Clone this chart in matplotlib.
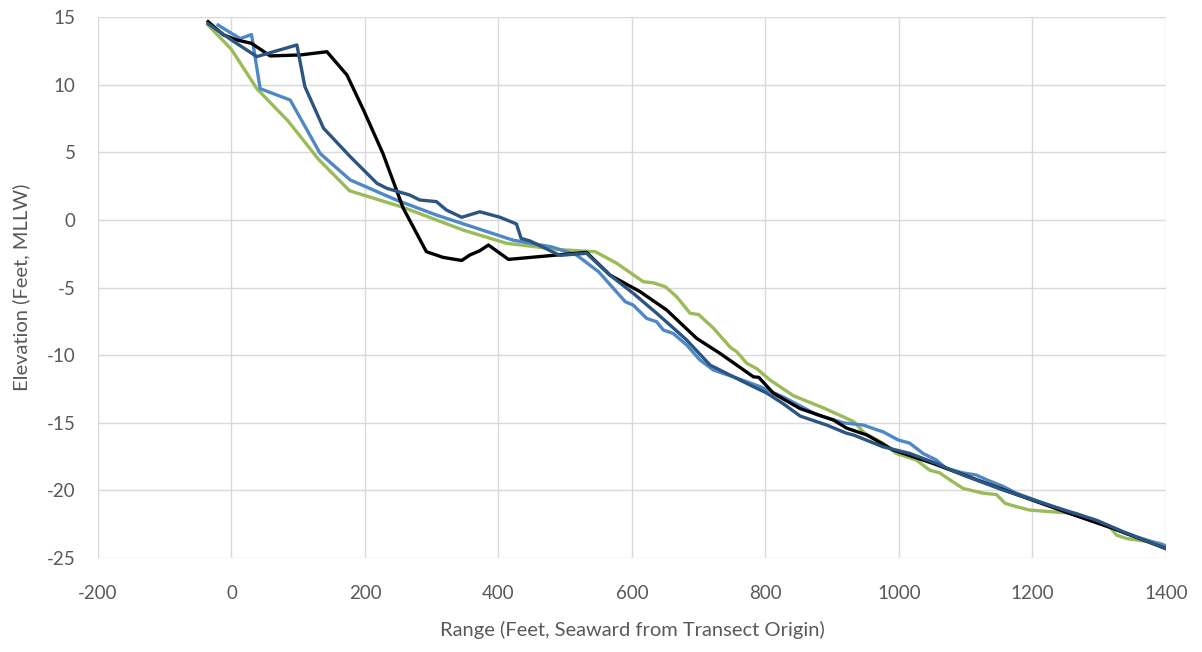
import matplotlib
matplotlib.use("Agg")
import matplotlib.pyplot as plt
import numpy as np

# survey profiles (range ft, elevation ft MLLW)
green_x = [-35, 0, 38, 85, 130, 177, 257, 347, 412, 492, 545, 577, 617, 632, 650, 667,
           687, 700, 722, 747, 757, 772, 787, 807, 842, 887, 932, 949, 976, 996, 1026,
           1046, 1061, 1076, 1096, 1126, 1146, 1159, 1176, 1196, 1236, 1266, 1291, 1316,
           1326, 1341, 1376, 1391, 1400]
green_y = [14.4, 12.6, 9.7, 7.3, 4.5, 2.15, 0.93, -0.75, -1.73, -2.2, -2.35, -3.2, -4.57,
           -4.65, -4.94, -5.68, -6.9, -7.0, -8.0, -9.4, -9.75, -10.6, -11.0, -11.84,
           -13.0, -13.9, -14.9, -15.78, -16.5, -17.26, -17.75, -18.5, -18.7, -19.2,
           -19.85, -20.2, -20.3, -20.95, -21.2, -21.45, -21.6, -21.7, -22.2, -22.7,
           -23.3, -23.55, -23.8, -23.9, -24.1]

lblue_x = [-20, 13, 30, 43, 88, 133, 178, 247, 307, 357, 422, 480, 517, 550, 590, 602,
           622, 637, 647, 662, 682, 702, 722, 752, 792, 827, 877, 917, 947, 966, 976,
           999, 1016, 1036, 1056, 1071, 1096, 1116, 1131, 1156, 1176, 1226, 1256, 1296,
           1341, 1400]
lblue_y = [14.4, 13.4, 13.7, 9.7, 8.86, 4.9, 2.95, 1.47, 0.36, -0.45, -1.5, -2.0, -2.6,
           -3.83, -6.05, -6.3, -7.28, -7.53, -8.14, -8.4, -9.25, -10.36, -11.1, -11.6,
           -12.33, -13.1, -14.4, -15.0, -15.17, -15.5, -15.66, -16.27, -16.5, -17.26,
           -17.75, -18.37, -18.7, -18.86, -19.2, -19.7, -20.2, -21.1, -21.7, -22.3,
           -23.2, -24.1]

navy_x = [-35, 3, 38, 98, 110, 138, 178, 218, 233, 267, 282, 307, 322, 345, 372, 402,
          427, 434, 447, 492, 532, 567, 602, 637, 657, 682, 717, 752, 782, 802, 827,
          852, 892, 922, 932, 976, 1016, 1056, 1096, 1156, 1226, 1296, 1336, 1400]
navy_y = [14.5, 13.2, 12.07, 12.93, 9.85, 6.77, 4.67, 2.7, 2.33, 1.84, 1.47, 1.35, 0.73,
          0.19, 0.6, 0.2, -0.3, -1.37, -1.55, -2.62, -2.47, -4.08, -5.43, -6.9, -7.77,
          -8.88, -10.73, -11.6, -12.33, -12.8, -13.6, -14.5, -15.17, -15.78, -15.9,
          -16.77, -17.26, -18.0, -18.86, -19.97, -21.1, -22.2, -23.05, -24.3]

black_x = [-35, -12, 8, 30, 58, 103, 143, 173, 198, 227, 257, 292, 317, 345, 357, 372,
           385, 415, 532, 567, 612, 652, 697, 732, 782, 790, 812, 852, 902, 922, 952,
           991, 1051, 1116, 1186, 1256, 1326, 1400]
black_y = [14.65, 13.67, 13.3, 13.05, 12.12, 12.19, 12.43, 10.71, 8.1, 4.9, 0.9, -2.35,
           -2.77, -3.0, -2.6, -2.28, -1.86, -2.92, -2.4, -4.08, -5.3, -6.66, -8.76,
           -9.87, -11.6, -11.64, -12.82, -13.95, -14.8, -15.4, -15.9, -17.0, -18.0,
           -19.2, -20.47, -21.7, -22.9, -24.3]

x_ticks = list(range(-200, 1401, 200))
y_ticks = list(range(-25, 16, 5))

plt.rcParams["font.family"] = ["Lato", "DejaVu Sans"]
plt.rcParams["axes.unicode_minus"] = False

fig = plt.figure(figsize=(12.02, 6.52), dpi=100)
ax = fig.add_axes([0.0815, 0.144, 0.8885, 0.830])

lw = 2.4
ax.plot(green_x, green_y, color="#9BBB59", lw=lw, zorder=3)
ax.plot(lblue_x, lblue_y, color="#4F88C6", lw=lw, zorder=4)
ax.plot(black_x, black_y, color="#000000", lw=lw, zorder=5)
ax.plot(navy_x, navy_y, color="#2C5582", lw=lw, zorder=6)

ax.set_xlim(-200, 1400)
ax.set_ylim(-25, 15)
ax.set_xticks(x_ticks)
ax.set_yticks(y_ticks)
ax.grid(True, color="#D9D9D9", lw=1.0, zorder=0)
ax.tick_params(length=0, labelsize=13.5, colors="#595959")
ax.tick_params(axis="x", pad=19)
ax.tick_params(axis="y", pad=16)
for s in ax.spines.values():
    s.set_visible(False)

ax.set_xlabel("Range (Feet, Seaward from Transect Origin)", fontsize=14.5,
              color="#595959", labelpad=14)
ax.set_ylabel("Elevation (Feet, MLLW)", fontsize=14.5, color="#595959", labelpad=12)

fig.savefig("out.png", dpi=100)
